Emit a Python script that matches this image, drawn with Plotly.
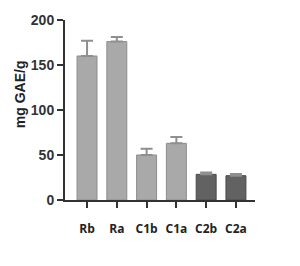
import plotly.graph_objects as go

categories = ["Rb", "Ra", "C1b", "C1a", "C2b", "C2a"]
values = [160, 176, 50, 63, 28.5, 27]
errors = [17, 5, 7, 7, 2, 2]
fill_colors = ["#a9a9a9", "#a9a9a9", "#a9a9a9", "#a9a9a9", "#626262", "#626262"]
line_colors = ["#8c8c8c", "#8c8c8c", "#8c8c8c", "#8c8c8c", "#4a4a4a", "#4a4a4a"]
y_ticks = [0, 50, 100, 150, 200]

fig = go.Figure()
fig.add_trace(go.Bar(
    x=categories, y=values,
    marker=dict(color=fill_colors, line=dict(color=line_colors, width=1)),
    width=0.67,
    error_y=dict(type="data", array=errors, symmetric=False, arrayminus=[0]*6,
                 color="#8f8f8f", thickness=2, width=6),
))

fig.update_layout(
    width=300, height=266,
    margin=dict(l=65, r=45, t=12, b=66),
    plot_bgcolor="white", paper_bgcolor="white",
    showlegend=False,
    font=dict(family="Liberation Sans, Arial", color="#333333"),
    xaxis=dict(
        range=[-0.74, 5.64], showline=True, linecolor="#333333", linewidth=2,
        ticks="outside", ticklen=6, tickwidth=2, tickcolor="#333333",
        tickfont=dict(size=12, family="Open Sans", color="#222222", weight="bold"),
        ticklabelstandoff=11, showgrid=False, zeroline=False,
    ),
    yaxis=dict(
        range=[0, 200], tickvals=y_ticks, showline=True, linecolor="#333333", linewidth=2,
        ticks="outside", ticklen=6, tickwidth=2, tickcolor="#333333",
        tickfont=dict(size=14, color="#333333", weight="bold"),
        showgrid=False, zeroline=False,
    ),
)
fig.add_annotation(
    text="mg GAE/g", textangle=-90, xref="paper", yref="paper",
    x=-0.24, y=0.59, xanchor="center", yanchor="middle", showarrow=False,
    font=dict(size=14, color="#222222", weight="bold"),
)
fig.write_html("out.html")
